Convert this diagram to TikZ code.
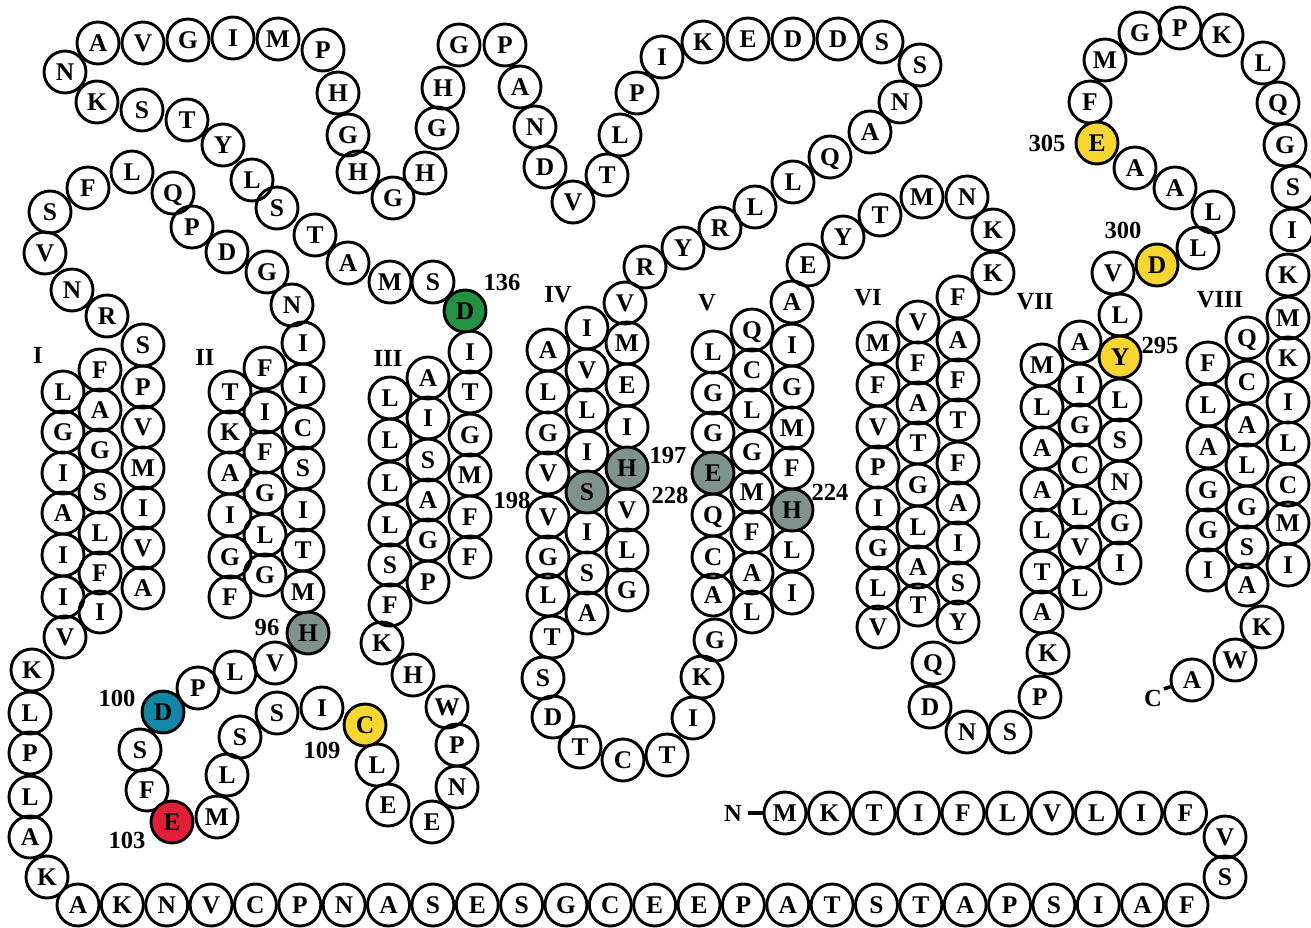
\documentclass[tikz,border=0pt]{standalone}
\usepackage{fontspec}
\setmainfont{Liberation Serif}
\definecolor{cgreen}{RGB}{35,145,65}
\definecolor{cgray}{RGB}{128,146,142}
\definecolor{cblue}{RGB}{18,135,165}
\definecolor{cred}{RGB}{225,30,55}
\definecolor{cyellow}{RGB}{248,214,50}
\tikzset{
  res/.style={circle,draw=black,line width=1.65pt,minimum size=0.84cm,inner sep=0pt,
    text height=9.8pt,text depth=0pt,font=\fontsize{14.5}{14.5}\selectfont\bfseries},
  lab/.style={inner sep=0pt,font=\fontsize{14}{14}\selectfont\bfseries},
}
\begin{document}
\begin{tikzpicture}[x=0.02cm,y=-0.02cm]
\useasboundingbox (0,0) rectangle (1311,927);
% plain residues
\foreach \px/\py/\lt [count=\i] in {
65/72/N, 98/43/A, 143/43/V, 188/40/G, 233/38/I, 278/39/M, 323/50/P, 338/93/H, 348/135/G, 358/172/H,
393/198/G, 425/173/H, 437/128/G, 443/88/H, 459/45/G, 505/45/P, 520/87/A, 535/127/N, 545/167/D, 573/202/V,
607/175/T, 620/135/L, 637/93/P, 662/57/I, 703/42/K, 748/39/E, 793/39/D, 838/39/D, 882/42/S, 920/65/S,
900/102/N, 870/132/A, 830/157/Q, 793/182/L, 755/207/L, 720/228/R, 683/248/Y, 645/267/R, 625/303/V,
97/102/K, 142/110/S, 187/120/T, 223/145/Y, 252/180/L, 277/208/S, 315/235/T, 348/263/A, 390/282/M, 433/282/S,
470/352/I, 470/392/T, 470/435/G, 470/475/M, 470/517/F, 470/557/F,
428/378/A, 428/418/I, 428/460/S, 428/500/A, 428/540/G, 428/582/P,
390/398/L, 390/440/L, 390/483/L, 390/525/L, 390/565/S, 390/605/F,
382/643/K, 413/675/H, 447/707/W, 457/745/P, 457/787/N, 432/822/E, 388/805/E, 377/765/L,
322/708/I, 277/713/S, 240/737/S, 227/775/L, 217/817/M, 147/790/F, 140/750/S, 198/688/P, 235/672/L, 275/663/V,
303/592/M, 303/550/T, 303/510/I, 303/468/S, 303/428/C, 303/385/I, 303/343/I, 292/305/N,
265/368/F, 265/412/I, 265/452/F, 265/493/G, 265/535/L, 265/575/G,
230/392/T, 230/432/K, 230/473/A, 230/515/I, 230/557/G, 230/597/F,
267/272/G, 227/252/D, 192/227/P, 173/193/Q, 132/172/L, 88/188/F, 50/212/S, 45/253/V, 72/290/N, 107/316/R,
143/345/S, 143/387/P, 143/427/V, 143/468/M, 143/508/I, 143/548/V, 143/588/A,
100/370/F, 100/410/A, 100/450/G, 100/492/S, 100/533/L, 100/573/F, 100/612/I,
63/392/L, 63/432/G, 63/473/I, 63/513/A, 63/555/I, 63/597/I, 65/637/V,
32/670/K, 30/713/L, 30/753/P, 30/797/L, 30/837/A, 47/877/K,
548/350/A, 548/392/L, 548/433/G, 548/473/V, 548/517/V, 548/557/G, 548/595/L,
587/328/I, 587/370/V, 587/410/L, 587/452/I, 587/532/I, 587/573/S, 587/613/A,
627/343/M, 627/385/E, 627/427/I, 627/510/V, 627/550/L, 627/590/G,
552/637/T, 543/678/S, 553/717/D, 580/747/T, 623/760/C, 667/755/T, 693/718/I, 702/677/K, 715/640/G,
713/352/L, 713/393/G, 713/433/G, 713/515/Q, 713/557/C, 713/595/A,
752/330/Q, 752/370/C, 752/410/L, 752/452/G, 752/492/M, 752/532/F, 752/573/A, 752/612/L,
792/302/A, 792/345/I, 792/387/G, 792/428/M, 792/468/F, 792/550/L, 792/593/I,
808/265/E, 843/237/Y, 880/215/T, 922/197/M, 967/197/N, 993/230/K, 993/273/K,
878/343/M, 878/385/F, 878/427/V, 878/467/P, 878/508/I, 878/548/G, 878/588/L, 878/627/V,
918/322/V, 918/363/F, 918/403/A, 918/443/T, 918/485/G, 918/527/L, 918/567/A, 918/605/T,
958/297/F, 958/340/A, 958/380/F, 958/420/T, 958/463/F, 958/503/A, 958/543/I, 958/583/S, 958/622/Y,
933/663/Q, 930/707/D, 967/732/N, 1010/732/S, 1040/697/P, 1048/653/K,
1042/365/M, 1042/407/L, 1042/448/A, 1042/490/A, 1042/530/L, 1042/572/T, 1042/612/A,
1080/342/A, 1080/385/I, 1080/425/G, 1080/465/C, 1080/507/L, 1080/547/V, 1080/588/L,
1120/315/L, 1120/400/L, 1120/440/S, 1120/482/N, 1120/523/G, 1120/563/I,
1113/273/V, 1198/248/L, 1213/212/L, 1175/188/A, 1135/168/A, 1090/102/F, 1105/60/M, 1140/33/G, 1180/28/P,
1222/35/K, 1263/63/L, 1278/103/Q, 1285/145/G, 1293/187/S, 1292/230/I, 1288/275/K,
1288/318/M, 1288/358/K, 1288/402/I, 1288/443/L, 1288/485/C, 1288/523/M, 1288/565/I,
1247/338/Q, 1247/382/C, 1247/425/A, 1247/465/L, 1247/507/G, 1247/547/S, 1247/585/A,
1208/363/F, 1208/405/L, 1208/447/A, 1208/490/G, 1208/530/G, 1208/570/I,
1262/627/K, 1235/660/W,
1225/837/V, 1225/877/S}
  \node[res] (p\i) at (\px,\py) {\lt};
% C-terminal alanine
\node[res] (cterm) at (1192,680) {A};
% N-terminal row
\foreach \lt [count=\i from 0] in {M,K,T,I,F,L,V,L,I,F}
  \node[res] (n\i) at ({785+44.5*\i},813) {\lt};
% bottom row
\foreach \lt [count=\i from 0] in {A,K,N,V,C,P,N,A,S,E,S,G,C,E,E,P,A,T,S,T,A,P,S,I,A,F}
  \node[res] (b\i) at ({78+44.36*\i},905) {\lt};
% coloured residues
\node[res,fill=cgreen] (d136) at (465,311) {D};
\node[res,fill=cgray] (h96) at (308,633) {H};
\node[res,fill=cblue] (d100) at (163,712) {D};
\node[res,fill=cred] (e103) at (172,822) {E};
\node[res,fill=cyellow] (c109) at (365,725) {C};
\node[res,fill=cgray] (h197) at (627,468) {H};
\node[res,fill=cgray] (s198) at (587,492) {S};
\node[res,fill=cgray] (e228) at (713,473) {E};
\node[res,fill=cgray] (h224) at (792,510) {H};
\node[res,fill=cyellow] (y295) at (1120,357) {Y};
\node[res,fill=cyellow] (d300) at (1157,265) {D};
\node[res,fill=cyellow] (e305) at (1097,143) {E};
% labels
\node[lab] (l136) at (502,282) {136};
\node[lab] (l96) at (267,627) {96};
\node[lab] (l100) at (117,698) {100};
\node[lab] (l103) at (127,840) {103};
\node[lab] (l109) at (322,750) {109};
\node[lab] (l197) at (668,455) {197};
\node[lab] (l198) at (512,500) {198};
\node[lab] (l228) at (670,495) {228};
\node[lab] (l224) at (830,492) {224};
\node[lab] (l295) at (1160,345) {295};
\node[lab] (l300) at (1123,230) {300};
\node[lab] (l305) at (1047,143) {305};
\node[lab] (hI) at (38,355) {I};
\node[lab] (hII) at (205,357) {II};
\node[lab] (hIII) at (388,358) {III};
\node[lab] (hIV) at (558,295) {IV};
\node[lab] (hV) at (707,303) {V};
\node[lab] (hVI) at (868,298) {VI};
\node[lab] (hVII) at (1035,302) {VII};
\node[lab] (hVIII) at (1220,300) {VIII};
\node[lab] (nlab) at (733,813) {N};
\node[lab] (clab) at (1153,698) {C};
\draw[line width=2.2pt,shorten <=3pt] (nlab.east) -- (n0.west);
\draw[line width=2pt,shorten <=1pt] (clab.north east) -- (cterm);
\end{tikzpicture}
\end{document}
